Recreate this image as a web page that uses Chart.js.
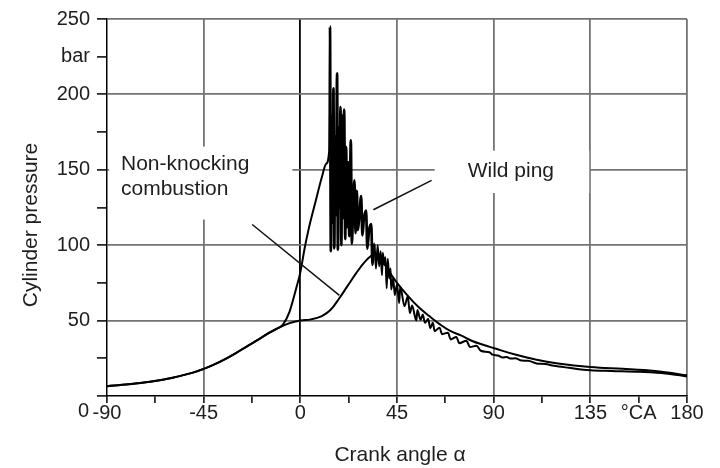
<!DOCTYPE html>
<html><head><meta charset="utf-8">
<script src="https://cdn.jsdelivr.net/npm/chart.js@4.4.1/dist/chart.umd.min.js"></script>
<style>html,body{margin:0;padding:0;background:#fff;overflow:hidden}</style>
</head><body>
<canvas id="c" width="720" height="468"></canvas>
<script>
// ---- data (crank angle in °CA, cylinder pressure in bar) ----
const nonKnockAngles   = [-90,-80,-70,-60,-50,-45,-40,-35,-30,-25,-20,-15,-10,-5,0,5,10,14,18,22,26,30,33,35,37,40,45,50,55,60,65,70,75,80,85,90,100,110,120,135,150,160,170,180];
const nonKnockPressure = [6.5,7.8,9.5,12,15.5,18,21,24.5,28.5,32.8,37,41.5,45.3,48.3,50,50.8,53,57,64.5,73,81.5,89,93,94.5,93.5,85.5,75,66.5,59,53,47.5,43,40,36.5,34,31.8,27.5,24,21.5,19.2,18,17.2,15.8,13.7];

const wildPingAngles = [-90,-80,-70,-60,-50,-45,-40,-35,-30,-25,-20,-15,-10,-8,-5,-2,0,2,4,7,10,12,13.4,
  13.8,14.2,14.6,15.0,15.4,15.8,16.2,16.6,17.1,17.5,17.9,18.3,18.7,19.1,19.5,19.9,20.4,20.9,21.3,21.8,22.3,22.8,23.5,24.0,24.6,25.2,25.7,26.3,26.8,27.5,28.3,28.9,29.6,30.6,31.2,32.0,33.0,33.6,34.5,35.2,36.0,36.7,37.4,38.0,38.4,39.0,39.6,40.2,40.7,41.4,42.0,42.3,43.2,44.0,45.0,46.0,46.5,48.5,50.0,51.0,52.0,54.0,54.5,56.0,57.0,58.0,59.5,60.5,61.7,62.5,64.8,66.0,68.7,70.0,72.6,74.0,77.3,79.0,82.0,84.0,88.0,89.5,
  92,94,96,98,100,103,106,110,114,118,125,135,145,158,170,180];
const wildPingPressure = [6.5,7.8,9.5,12,15.5,18,21,24.5,28.5,32.8,37,41.5,45.3,47.5,56,71,82,98,111.5,128.5,145,154,162,
  245,96,185,115,204,98,172,120,214,97,178,125,191.5,100,186,118,190,104,165,112,155,106,169.5,101,128,143,108,136,110,120,132.6,106.5,118,123,97.6,110,114,87,101,84.5,100,86,96,80,95,87,92,71.5,91,78,84.5,70.6,78,67,74,61.6,72.5,59.5,66,55,60,50,57,50.5,54,48.6,51,45,48.6,43,45.3,41,42,37.5,39.2,35,36.6,32.5,33.3,30,29,27.4,
  26.8,25.6,25.9,24.8,25,23.5,23.4,21.6,21.2,20,18.7,17.1,16.6,16,15,13];

const yMajorTicks = [50,100,150,200,250];
const xMajorTicks = [-90,-45,0,45,90,135,180];
const yUnitLabel = 'bar';
const xUnitLabel = '°CA';
const yTitle = 'Cylinder pressure';
const xTitle = 'Crank angle α';

const toPts = (xs, ys) => xs.map((v, i) => ({x: v, y: ys[i]}));
const FONT = "'Liberation Sans', Arial, sans-serif";
const GRID = '#737373';

const overlay = {
  id: 'overlay',
  beforeDatasetsDraw(chart) {
    const {ctx, scales: {x, y}} = chart;
    ctx.save();
    ctx.fillStyle = '#fff';
    const boxes = [[-89, -3.7, 165.4, 117], [62.5, 134.5, 162.7, 134.6]];
    boxes.forEach(b => {
      const x0 = x.getPixelForValue(b[0]), x1 = x.getPixelForValue(b[1]);
      const y0 = y.getPixelForValue(b[2]), y1 = y.getPixelForValue(b[3]);
      ctx.fillRect(x0, y0, x1 - x0, y1 - y0);
    });
    ctx.restore();
  },
  afterDraw(chart) {
    const {ctx, scales: {x, y}, chartArea: ca} = chart;
    ctx.save();
    ctx.fillStyle = '#1e1e1e';
    ctx.strokeStyle = '#111';
    ctx.lineWidth = 1.5;
    const line = (a0, p0, a1, p1) => {
      ctx.beginPath();
      ctx.moveTo(x.getPixelForValue(a0), y.getPixelForValue(p0));
      ctx.lineTo(x.getPixelForValue(a1), y.getPixelForValue(p1));
      ctx.stroke();
    };
    line(-22.4, 113.7, 18.2, 66.7);
    line(61.1, 143, 34, 123.5);
    ctx.font = '21px ' + FONT;
    ctx.textAlign = 'left';
    ctx.textBaseline = 'alphabetic';
    ctx.fillText('Non-knocking', x.getPixelForValue(-83.5), y.getPixelForValue(150));
    ctx.fillText('combustion', x.getPixelForValue(-83.5), y.getPixelForValue(133));
    ctx.fillText('Wild ping', x.getPixelForValue(77.9), y.getPixelForValue(145));
    ctx.textAlign = 'center';
    ctx.textBaseline = 'middle';
    ctx.fillText(xTitle, (ca.left + ca.right) / 2 + 3, 455);
    ctx.save();
    ctx.translate(31, 225);
    ctx.rotate(-Math.PI / 2);
    ctx.fillText(yTitle, 0, 0);
    ctx.restore();
    ctx.font = '20px ' + FONT;
    ctx.textAlign = 'right';
    ctx.fillText('0', ca.left - 18, ca.bottom + 15);
    ctx.restore();
  }
};

new Chart(document.getElementById('c'), {
  type: 'scatter',
  data: {
    datasets: [
      {label: 'Non-knocking combustion', data: toPts(nonKnockAngles, nonKnockPressure),
       showLine: true, borderColor: '#000', borderWidth: 2, pointRadius: 0, tension: 0.4},
      {label: 'Wild ping', data: toPts(wildPingAngles, wildPingPressure),
       showLine: true, borderColor: '#000', borderWidth: 2, pointRadius: 0, cubicInterpolationMode: 'monotone',
       segment: {borderWidth: c => (c.p0.parsed.x >= 13.5 && c.p0.parsed.x < 34) ? 2.7 : 2}}
    ]
  },
  options: {
    responsive: false,
    animation: false,
    devicePixelRatio: 1,
    layout: {padding: {top: 15, right: 33, left: 0, bottom: 0}},
    plugins: {legend: {display: false}, tooltip: {enabled: false}},
    scales: {
      x: {
        type: 'linear', min: -90, max: 180,
        afterFit(s) { s.height = 72; },
        border: {display: true, color: '#000', width: 1.5},
        grid: {
          lineWidth: 1.8, tickLength: 7, tickWidth: 1.5, tickColor: '#000',
          color: c => {
            const v = c.tick ? c.tick.value : null;
            if (v === 0) return '#000';
            if (v === -90) return 'rgba(0,0,0,0)';
            return xMajorTicks.includes(v) ? GRID : 'rgba(0,0,0,0)';
          }
        },
        ticks: {
          stepSize: 22.5, autoSkip: false, maxRotation: 0, padding: -2,
          color: '#1e1e1e', font: {family: FONT, size: 20},
          callback: v => xMajorTicks.includes(v) ? String(v) : (v === 157.5 ? xUnitLabel : '')
        },
        title: {display: false}
      },
      y: {
        type: 'linear', min: 0, max: 250,
        afterFit(s) { s.width = 107; },
        border: {display: true, color: '#000', width: 1.5},
        grid: {
          lineWidth: 1.8, tickLength: 10, tickWidth: 1.5, tickColor: '#000',
          color: c => {
            const v = c.tick ? c.tick.value : null;
            return yMajorTicks.includes(v) ? GRID : 'rgba(0,0,0,0)';
          }
        },
        ticks: {
          stepSize: 25, autoSkip: false, padding: 7,
          color: '#1e1e1e', font: {family: FONT, size: 20},
          callback: v => yMajorTicks.includes(v) ? String(v) : (v === 225 ? yUnitLabel : '')
        },
        title: {display: false}
      }
    }
  },
  plugins: [overlay]
});
</script>
</body></html>
